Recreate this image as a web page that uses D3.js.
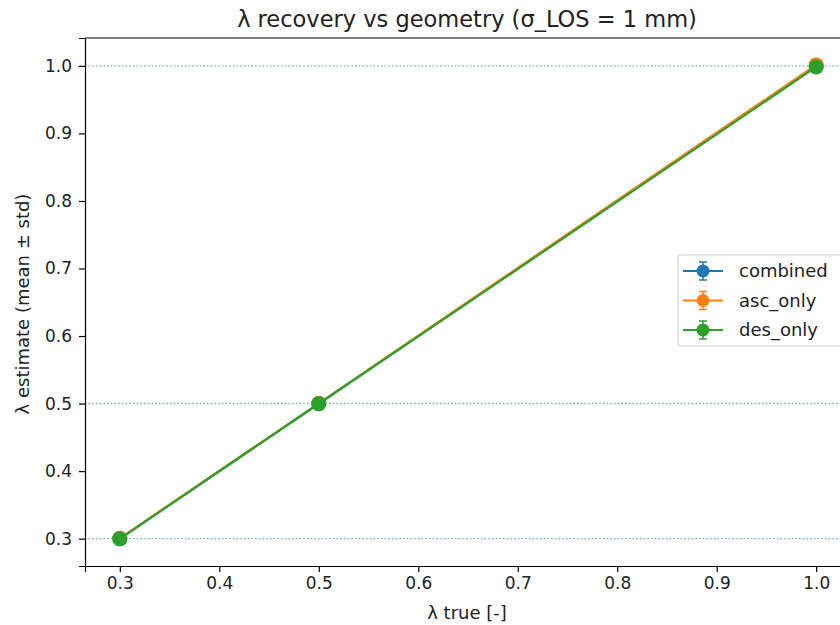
<!DOCTYPE html>
<html>
<head>
<meta charset="utf-8">
<script src="https://cdn.jsdelivr.net/npm/d3@7"></script>
<style>
  body { margin: 0; background: #fff; }
  svg { font-family: 'DejaVu Sans', sans-serif; }
</style>
</head>
<body>
<div id="chart"></div>
<script>
const lambdaTrue = [0.3, 0.5, 1.0];
const seriesNames = ['combined', 'asc_only', 'des_only'];
const seriesColors = ['#1f77b4', '#ff7f0e', '#2ca02c'];
const meanCombined = [0.300, 0.500, 1.000];
const stdCombined = [0.001, 0.001, 0.002];
const meanAsc = [0.3005, 0.5004, 1.0015];
const stdAsc = [0.001, 0.001, 0.002];
const meanDes = [0.2997, 0.4997, 0.9985];
const stdDes = [0.001, 0.001, 0.002];
const refLines = [0.3, 0.5, 1.0];
const xTicks = [0.3, 0.4, 0.5, 0.6, 0.7, 0.8, 0.9, 1.0];
const yTicks = [0.3, 0.4, 0.5, 0.6, 0.7, 0.8, 0.9, 1.0];

const series = [
  { name: seriesNames[0], mean: meanCombined, std: stdCombined },
  { name: seriesNames[1], mean: meanAsc, std: stdAsc },
  { name: seriesNames[2], mean: meanDes, std: stdDes }
];

const margin = { top: 38, right: 0, bottom: 59, left: 85 };
const width = 851 - margin.left;
const height = 566 - margin.top;

const svg = d3.select('#chart').append('svg')
  .attr('width', 840)
  .attr('height', 625);

const g = svg.append('g')
  .attr('transform', `translate(${margin.left},${margin.top})`);

const x = d3.scaleLinear().domain([0.265, 1.035]).range([0, width]);
const y = d3.scaleLinear().domain([0.2595, 1.0413]).range([height, 0]);

// reference lines
g.selectAll('.ref')
  .data(refLines)
  .enter().append('line')
  .attr('x1', 0).attr('x2', width)
  .attr('y1', d => y(d)).attr('y2', d => y(d))
  .attr('stroke', '#1f77b4')
  .attr('stroke-opacity', 0.7)
  .attr('stroke-width', 1.4)
  .attr('stroke-dasharray', '1.4,2.3');

const line = d3.line().x(d => x(d[0])).y(d => y(d[1]));

series.forEach((s, i) => {
  const pts = lambdaTrue.map((v, j) => [v, s.mean[j], s.std[j]]);
  g.append('path')
    .datum(pts)
    .attr('d', line)
    .attr('fill', 'none')
    .attr('stroke', seriesColors[i])
    .attr('stroke-width', 2.2);
  pts.forEach(p => {
    g.append('line')
      .attr('x1', x(p[0])).attr('x2', x(p[0]))
      .attr('y1', y(p[1] - p[2])).attr('y2', y(p[1] + p[2]))
      .attr('stroke', seriesColors[i]).attr('stroke-width', 2);
  });
  g.selectAll('.pt' + i)
    .data(pts)
    .enter().append('circle')
    .attr('cx', d => x(d[0]))
    .attr('cy', d => y(d[1]))
    .attr('r', 7.5)
    .attr('fill', seriesColors[i]);
});

// axes
const xAxis = g.append('g')
  .attr('transform', `translate(0,${height})`)
  .call(d3.axisBottom(x).tickValues(xTicks).tickFormat(d3.format('.1f')).tickSizeOuter(0).tickSize(6).tickPadding(5));
const yAxis = g.append('g')
  .call(d3.axisLeft(y).tickValues(yTicks).tickFormat(d3.format('.1f')).tickSizeOuter(0).tickSize(6).tickPadding(7));
[xAxis, yAxis].forEach(a => {
  a.selectAll('text').attr('font-size', 17).attr('fill', '#222').attr('font-family', 'DejaVu Sans');
  a.selectAll('line').attr('stroke', '#000').attr('stroke-width', 1.2);
  a.select('.domain').attr('stroke', '#000').attr('stroke-width', 1.2);
});

// top spine
g.append('line')
  .attr('x1', 0).attr('x2', width).attr('y1', 0).attr('y2', 0)
  .attr('stroke', '#000').attr('stroke-width', 1.2);

// titles
svg.append('text')
  .attr('x', 467).attr('y', 27)
  .attr('text-anchor', 'middle')
  .attr('font-size', 22.5)
  .attr('fill', '#222')
  .text('λ recovery vs geometry (σ_LOS = 1 mm)');

svg.append('text')
  .attr('x', 467).attr('y', 619)
  .attr('text-anchor', 'middle')
  .attr('font-size', 18)
  .attr('fill', '#222')
  .text('λ true [-]');

svg.append('text')
  .attr('transform', 'rotate(-90)')
  .attr('x', -304).attr('y', 29)
  .attr('text-anchor', 'middle')
  .attr('font-size', 18)
  .attr('fill', '#222')
  .text('λ estimate (mean ± std)');

// legend
const lg = svg.append('g').attr('transform', 'translate(678,255)');
lg.append('rect')
  .attr('width', 170).attr('height', 91)
  .attr('rx', 3)
  .attr('fill', '#fff').attr('fill-opacity', 0.8)
  .attr('stroke', '#ccc');
series.forEach((s, i) => {
  const cy = 16 + i * 29.5;
  const it = lg.append('g').attr('transform', `translate(0,${cy})`);
  it.append('line').attr('x1', 5).attr('x2', 45).attr('y1', 0).attr('y2', 0)
    .attr('stroke', seriesColors[i]).attr('stroke-width', 2.2);
  it.append('line').attr('x1', 25).attr('x2', 25).attr('y1', -9).attr('y2', 9)
    .attr('stroke', seriesColors[i]).attr('stroke-width', 1.5);
  it.append('line').attr('x1', 21).attr('x2', 29).attr('y1', -9).attr('y2', -9)
    .attr('stroke', seriesColors[i]).attr('stroke-width', 1.5);
  it.append('line').attr('x1', 21).attr('x2', 29).attr('y1', 9).attr('y2', 9)
    .attr('stroke', seriesColors[i]).attr('stroke-width', 1.5);
  it.append('circle').attr('cx', 25).attr('cy', 0).attr('r', 6.5).attr('fill', seriesColors[i]);
  it.append('text').attr('x', 61).attr('y', 6)
    .attr('font-size', 18).attr('fill', '#222').text(s.name);
});
</script>
</body>
</html>
